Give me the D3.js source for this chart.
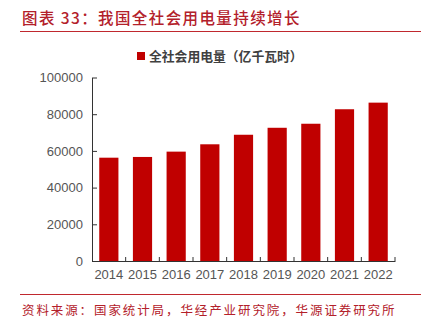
<!DOCTYPE html>
<html><head><meta charset="utf-8">
<script src="https://cdn.jsdelivr.net/npm/d3@7"></script>
<style>body{margin:0;background:#fff;}svg{display:block;}</style>
</head><body>
<script>
const title = "图表 33：我国全社会用电量持续增长";
const seriesName = "全社会用电量（亿千瓦时）";
const source = "资料来源：国家统计局，华经产业研究院，华源证券研究所";
const years = ["2014","2015","2016","2017","2018","2019","2020","2021","2022"];
const values = [56300, 56700, 59600, 63600, 68800, 72600, 74800, 82700, 86300];
const yTicks = [0, 20000, 40000, 60000, 80000, 100000];

const W = 423, H = 326;
const svg = d3.select("body").append("svg").attr("width", W).attr("height", H);
const red = "#b3202a";
const cjk = "'Noto Sans CJK SC', sans-serif";

svg.append("text").attr("x", 22).attr("y", 24).attr("fill", red)
  .attr("font-family", cjk).attr("font-size", 15.5).attr("font-weight", 500)
  .attr("letter-spacing", 1.4).text(title);
svg.append("line").attr("x1", 20).attr("x2", 421).attr("y1", 31.5).attr("y2", 31.5)
  .attr("stroke", "#c0282e").attr("stroke-width", 1.2);

const x = d3.scaleBand().domain(years).range([92, 395]).paddingInner(0.43).paddingOuter(0.215);
const y = d3.scaleLinear().domain([0, 100000]).range([261, 77.5]);

// legend
svg.append("rect").attr("x", 137).attr("y", 52).attr("width", 8).attr("height", 8).attr("fill", "#c00000");
svg.append("text").attr("x", 149).attr("y", 60.5).attr("fill", "#404040")
  .attr("font-family", cjk).attr("font-size", 12.8).attr("font-weight", "bold").text(seriesName);

// bars
svg.append("g").selectAll("rect").data(years).join("rect")
  .attr("x", d => x(d)).attr("width", x.bandwidth())
  .attr("y", (d, i) => y(values[i])).attr("height", (d, i) => y(0) - y(values[i]))
  .attr("fill", "#c00000");

// y axis
const ya = svg.append("g").attr("transform", "translate(92,0)")
  .call(d3.axisLeft(y).tickValues(yTicks).tickFormat(d3.format("d")).tickSizeInner(-5).tickSizeOuter(0).tickPadding(9));
ya.select(".domain").attr("stroke", "#333");
ya.selectAll(".tick line").attr("stroke", "#333");
ya.selectAll("text").attr("font-family", "'Liberation Sans', Arial, sans-serif").attr("font-size", 13).attr("fill", "#555");

// x axis
const xa = svg.append("g").attr("transform", "translate(0,261)")
  .call(d3.axisBottom(x).tickSize(0).tickPadding(9));
xa.select(".domain").attr("stroke", "#333");
xa.selectAll("text").attr("font-family", "'Liberation Sans', Arial, sans-serif").attr("font-size", 13).attr("fill", "#555");
const edges = d3.range(1, years.length + 1).map(i => 92 + i * (303 / years.length));
xa.selectAll(".edge").data(edges).join("line").attr("class", "edge")
  .attr("x1", d => d).attr("x2", d => d).attr("y1", 0).attr("y2", -4).attr("stroke", "#333");

svg.append("line").attr("x1", 20).attr("x2", 421).attr("y1", 294.5).attr("y2", 294.5)
  .attr("stroke", "#c0282e").attr("stroke-width", 1.2);
svg.append("text").attr("x", 22).attr("y", 315).attr("fill", red)
  .attr("font-family", cjk).attr("font-size", 12.5)
  .attr("letter-spacing", 1.9).text(source);
</script>
</body></html>
